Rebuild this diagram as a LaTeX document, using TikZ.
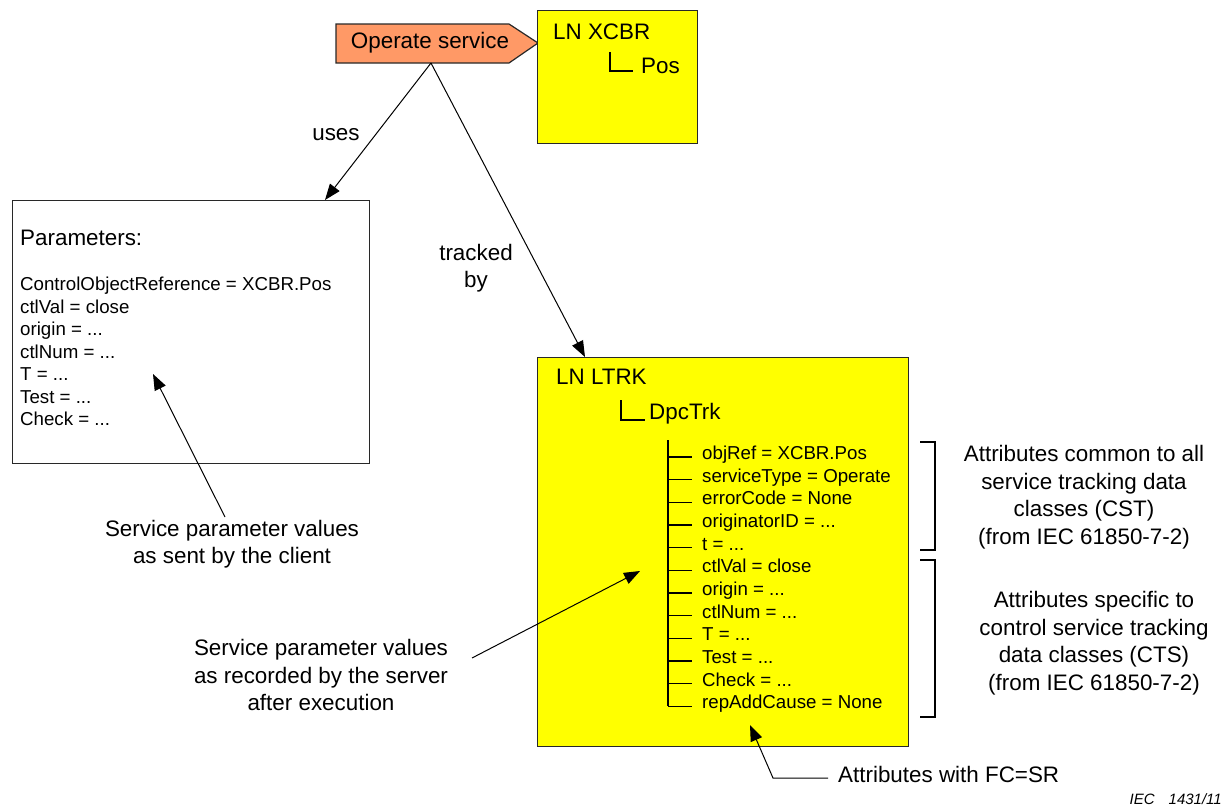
\documentclass[tikz,border=0pt]{standalone}
\usepackage{fontspec}
\setmainfont{Liberation Sans}
\usetikzlibrary{arrows.meta}
\definecolor{opfill}{RGB}{255,153,102}
\definecolor{lnfill}{RGB}{255,255,0}
\definecolor{edge}{RGB}{40,40,40}
\newcommand{\tdots}{...}
\tikzset{
  big/.style={font=\fontsize{22.4}{27}\selectfont, inner sep=0pt},
  item/.style={font=\fontsize{18.7}{22.5}\selectfont, inner sep=0pt},
  note/.style={font=\fontsize{22.4}{27.5}\selectfont, inner sep=0pt, align=center},
  box/.style={draw=edge, line width=1.4pt, inner sep=0pt, anchor=north west},
  lnbox/.style={box, fill=lnfill},
  arr/.style={-{Triangle[length=16pt,width=12pt]}, line width=1pt},
  tree/.style={line width=1.3pt},
  brk/.style={line width=1.1pt},
}
\begin{document}
\begin{tikzpicture}[x=1pt,y=-1pt]
\useasboundingbox (0,0) rectangle (1227,809);

% Operate service pentagon
\draw[draw=edge, line width=1.2pt, fill=opfill] (336,24) -- (509,24) -- (538,43) -- (509,63) -- (336,63) -- cycle;
\node[big] (op) at (430,43) {Operate service};
\coordinate (opb) at (431,63);

% LN XCBR box
\node[lnbox, minimum width=160pt, minimum height=133pt] (xcbr) at (537,10) {};
\node[big, anchor=mid west] (xcbrt) at (553,37) {LN XCBR};
\node[big, anchor=mid west] (pos) at (641,71) {Pos};
\draw[tree] (610,52) -- (610,71) -- (633,71);

% Parameters box
\node[box, fill=white, minimum width=357pt, minimum height=263pt] (par) at (12,200) {};
\node[big, anchor=mid west] (part) at (20,243) {Parameters:};
\foreach \t [count=\i from 0] in {ControlObjectReference = XCBR.Pos, ctlVal = close, origin = \tdots, ctlNum = \tdots, T = \tdots, Test = \tdots, Check = \tdots} {
  \pgfmathsetmacro\yy{288+22.5*\i}
  \node[item, anchor=mid west] (p\i) at (20,\yy) {\t};
}

% LN LTRK box
\node[lnbox, minimum width=371pt, minimum height=389pt] (ltrk) at (537,357) {};
\node[big, anchor=mid west] (ltrkt) at (556,382) {LN LTRK};
\node[big, anchor=mid west] (dpc) at (649,417) {DpcTrk};
\draw[tree] (621,400) -- (621,420) -- (645,420);
\draw[tree] (668,440) -- (668,706.2);
\foreach \t [count=\i from 0] in {objRef = XCBR.Pos, serviceType = Operate, errorCode = None, originatorID = \tdots, t = \tdots, ctlVal = close, origin = \tdots, ctlNum = \tdots, T = \tdots, Test = \tdots, Check = \tdots, repAddCause = None} {
  \pgfmathsetmacro\yy{457+22.65*\i}
  \node[item, anchor=mid west] (it\i) at (702,\yy) {\t};
  \draw[tree] (668,\yy) -- (692,\yy);
}

% connectors from Operate service
\coordinate (parin) at (325,200);
\coordinate (ltrkin) at (585,357);
\draw[arr] (opb) -- (parin);
\draw[arr] (opb) -- (ltrkin);
\node[big] (uses) at (336,135) {uses};
\node[note] (trk) at (476,268) {tracked\\by};

% brackets
\draw[brk] (920,442) -- (935,442) -- (935,550) -- (920,550);
\draw[brk] (920,560) -- (935,560) -- (935,717) -- (920,717);
\node[note] (cst) at (1084,497) {Attributes common to all\\service tracking data\\classes (CST)\\(from IEC 61850-7-2)};
\node[note] (cts) at (1094,643) {Attributes specific to\\control service tracking\\data classes (CTS)\\(from IEC 61850-7-2)};

% annotations
\node[note] (ann1) at (232,544) {Service parameter values\\as sent by the client};
\coordinate (a1s) at (225,517);
\coordinate (a1e) at (153,374);
\draw[arr] (a1s) -- (a1e);

\node[note] (ann2) at (321,675) {Service parameter values\\as recorded by the server\\after execution};
\coordinate (a2s) at (472,658);
\coordinate (a2e) at (640,571);
\draw[arr] (a2s) -- (a2e);

\node[big, anchor=mid west] (fc) at (838,780) {Attributes with FC=SR};
\coordinate (a3s) at (828,778);
\coordinate (a3m) at (773,778);
\coordinate (a3e) at (750,725);
\draw[arr] (a3s) -- (a3m) -- (a3e);

\node[font=\fontsize{15}{18}\selectfont\itshape, inner sep=0pt, anchor=mid east] (iec) at (1222,802) {IEC\hspace{14pt}1431/11};
\end{tikzpicture}
\end{document}
